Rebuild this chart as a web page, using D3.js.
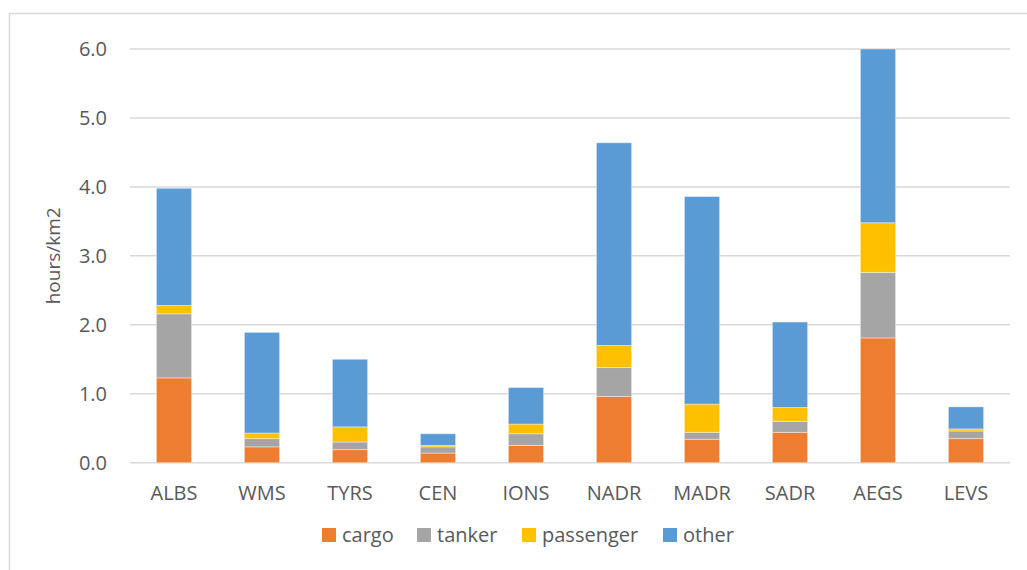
<!DOCTYPE html>
<html>
<head>
<meta charset="utf-8">
<script src="https://cdn.jsdelivr.net/npm/d3@7"></script>
<style>
  body { margin: 0; background: #fff; }
  svg text { font-family: "Open Sans", sans-serif; fill: #595959; }
</style>
</head>
<body>
<svg id="chart" width="1027" height="570"></svg>
<script>
const regions = ['ALBS', 'WMS', 'TYRS', 'CEN', 'IONS', 'NADR', 'MADR', 'SADR', 'AEGS', 'LEVS']
const seriesNames = ['cargo', 'tanker', 'passenger', 'other']
const cargo = [1.23, 0.23, 0.19, 0.14, 0.25, 0.96, 0.34, 0.44, 1.81, 0.35]
const tanker = [0.93, 0.12, 0.11, 0.09, 0.17, 0.42, 0.10, 0.16, 0.95, 0.11]
const passenger = [0.12, 0.08, 0.22, 0.02, 0.14, 0.32, 0.41, 0.20, 0.72, 0.03]
const other = [1.70, 1.46, 0.98, 0.17, 0.53, 2.94, 3.01, 1.24, 2.52, 0.32]
const yTicks = [0, 1, 2, 3, 4, 5, 6]
const colors = ['#ED7D31', '#A5A5A5', '#FFC000', '#5B9BD5']

const svg = d3.select('#chart')

// chart frame (right/bottom edges fall outside the picture)
svg.append('rect')
  .attr('x', 9.5).attr('y', 13.5)
  .attr('width', 1100).attr('height', 700)
  .attr('fill', 'none')
  .attr('stroke', '#d9d9d9')
  .attr('stroke-width', 1.5)

const margin = { left: 130, right: 1010, top: 49, bottom: 462.7 }

const x = d3.scaleBand()
  .domain(regions)
  .range([margin.left, margin.right])
  .paddingInner(0.6)
  .paddingOuter(0.3)

const y = d3.scaleLinear()
  .domain([0, 6])
  .range([margin.bottom, margin.top])

// gridlines
svg.append('g')
  .selectAll('line')
  .data(yTicks)
  .join('line')
  .attr('x1', margin.left).attr('x2', margin.right)
  .attr('y1', d => y(d)).attr('y2', d => y(d))
  .attr('stroke', '#d9d9d9')
  .attr('stroke-width', 1.5)

// y tick labels
svg.append('g')
  .selectAll('text')
  .data(yTicks)
  .join('text')
  .attr('x', 107)
  .attr('y', d => y(d))
  .attr('dy', '0.36em')
  .attr('text-anchor', 'end')
  .style('font-size', '20px')
  .text(d => d3.format('.1f')(d))

// y axis title
svg.append('text')
  .attr('transform', 'translate(60,' + ((margin.top + margin.bottom) / 2) + ') rotate(-90)')
  .attr('text-anchor', 'middle')
  .style('font-size', '19px')
  .text('hours/km2')

// stacked bars
const rows = regions.map((r, i) => ({
  region: r,
  cargo: cargo[i],
  tanker: tanker[i],
  passenger: passenger[i],
  other: other[i]
}))
const stacked = d3.stack().keys(seriesNames)(rows)

svg.append('g')
  .selectAll('g')
  .data(stacked)
  .join('g')
  .attr('fill', (d, i) => colors[i])
  .selectAll('rect')
  .data(d => d)
  .join('rect')
  .attr('x', d => x(d.data.region))
  .attr('width', x.bandwidth())
  .attr('y', d => y(d[1]))
  .attr('height', d => y(d[0]) - y(d[1]))
  .attr('stroke', '#ffffff')
  .attr('stroke-opacity', 0.4)
  .attr('stroke-width', 1)

// x labels
svg.append('g')
  .selectAll('text')
  .data(regions)
  .join('text')
  .attr('x', d => x(d) + x.bandwidth() / 2)
  .attr('y', 493)
  .attr('dy', '0.36em')
  .attr('text-anchor', 'middle')
  .style('font-size', '20px')
  .text(d => d)

// legend
const legendX = [322, 417, 522, 663]
const legend = svg.append('g')
  .selectAll('g')
  .data(seriesNames)
  .join('g')
  .attr('transform', (d, i) => 'translate(' + legendX[i] + ',528)')
legend.append('rect')
  .attr('width', 14).attr('height', 14)
  .attr('fill', (d, i) => colors[i])
legend.append('text')
  .attr('x', 20).attr('y', 7)
  .attr('dy', '0.36em')
  .style('font-size', '20px')
  .text(d => d)
</script>
</body>
</html>
